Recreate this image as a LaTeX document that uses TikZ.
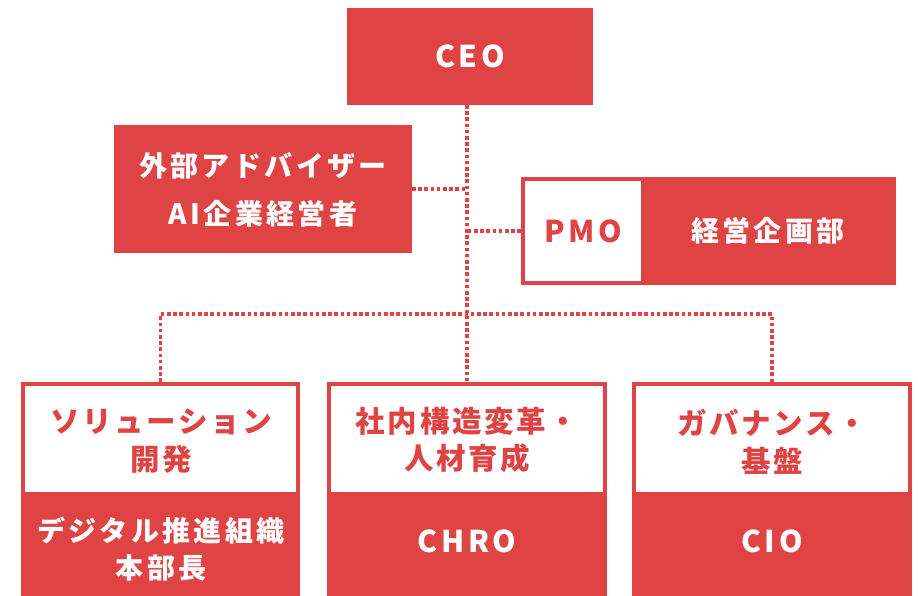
\documentclass[tikz,border=0pt]{standalone}
\usepackage{fontspec}
\newfontfamily\jp{Noto Sans CJK JP}[LetterSpace=12]
\newfontfamily\jpu{Noto Sans CJK JP}[LetterSpace=9]
\definecolor{orgred}{RGB}{224,67,67}
\begin{document}
\begin{tikzpicture}[x=1pt,y=-1pt,
  box/.style={inner sep=0pt, outer sep=0pt, anchor=north west},
  redfill/.style={box, fill=orgred},
  whitefill/.style={box, fill=white},
  lbl/.style={inner sep=0pt, align=center, font=\jp\bfseries\fontsize{28}{37}\selectfont},
  wlbl/.style={lbl, text=white},
  rlbl/.style={lbl, text=orgred},
  ulbl/.style={rlbl, font=\jpu\bfseries\fontsize{29.5}{37.5}\selectfont},
  latlbl/.style={font=\jp\bfseries\fontsize{30}{36}\selectfont},
  dotline/.style={draw=orgred, line width=3.8pt, dash pattern=on 3.6pt off 2.6pt}
]
\useasboundingbox (0,0) rectangle (918,596);
\clip (0,0) rectangle (918,596);
% CEO
\node[redfill, minimum width=246pt, minimum height=97pt] (ceo) at (347,8) {};
\node[wlbl, latlbl] (ceot) at (ceo.center) {CEO};
% advisor
\node[redfill, minimum width=298pt, minimum height=128pt] (adv) at (114,125) {};
\node[wlbl, font=\jp\bfseries\fontsize{28}{48}\selectfont] (advt) at ([yshift=-1pt]adv.center) {外部アドバイザー\\AI企業経営者};
% PMO
\node[redfill, minimum width=375pt, minimum height=108pt] (pmo) at (521,177) {};
\node[whitefill, minimum width=116pt, minimum height=100pt] (pmoin) at (525,181) {};
\node[rlbl, latlbl] (pmot) at (pmoin.center) {PMO};
\node[wlbl] (keiei) at (768,231) {経営企画部};
% bottom boxes
\node[redfill, minimum width=279pt, minimum height=230pt] (b1) at (21,382) {};
\node[whitefill, minimum width=271pt, minimum height=106pt] (b1u) at (25,386) {};
\node[redfill, minimum width=280pt, minimum height=230pt] (b2) at (327,382) {};
\node[whitefill, minimum width=272pt, minimum height=106pt] (b2u) at (331,386) {};
\node[redfill, minimum width=280pt, minimum height=230pt] (b3) at (632,382) {};
\node[whitefill, minimum width=272pt, minimum height=106pt] (b3u) at (636,386) {};
\node[ulbl] (b1t) at (161,441) {ソリューション\\開発};
\node[ulbl] (b2t) at (467,440) {社内構造変革・\\人材育成};
\node[ulbl] (b3t) at (772,442) {ガバナンス・\\基盤};
\node[wlbl] (b1b) at (161,549) {デジタル推進組織\\本部長};
\node[wlbl, latlbl] (b2b) at (467,541) {CHRO};
\node[wlbl, latlbl] (b3b) at (772,541) {CIO};
% connectors
\coordinate (vtop) at (ceo.south -| b2.north);
\coordinate (hl) at (b1.north |- 0,314);
\coordinate (hr) at (b3.north |- 0,314);
\draw[dotline] (vtop) -- (b2.north);
\draw[dotline] (adv.east) -- (adv.east -| b2.north);
\draw[dotline] (pmo.west) -- (pmo.west -| b2.north);
\draw[dotline] (b1.north) -- (hl) -- (hr) -- (b3.north);
\end{tikzpicture}
\end{document}
